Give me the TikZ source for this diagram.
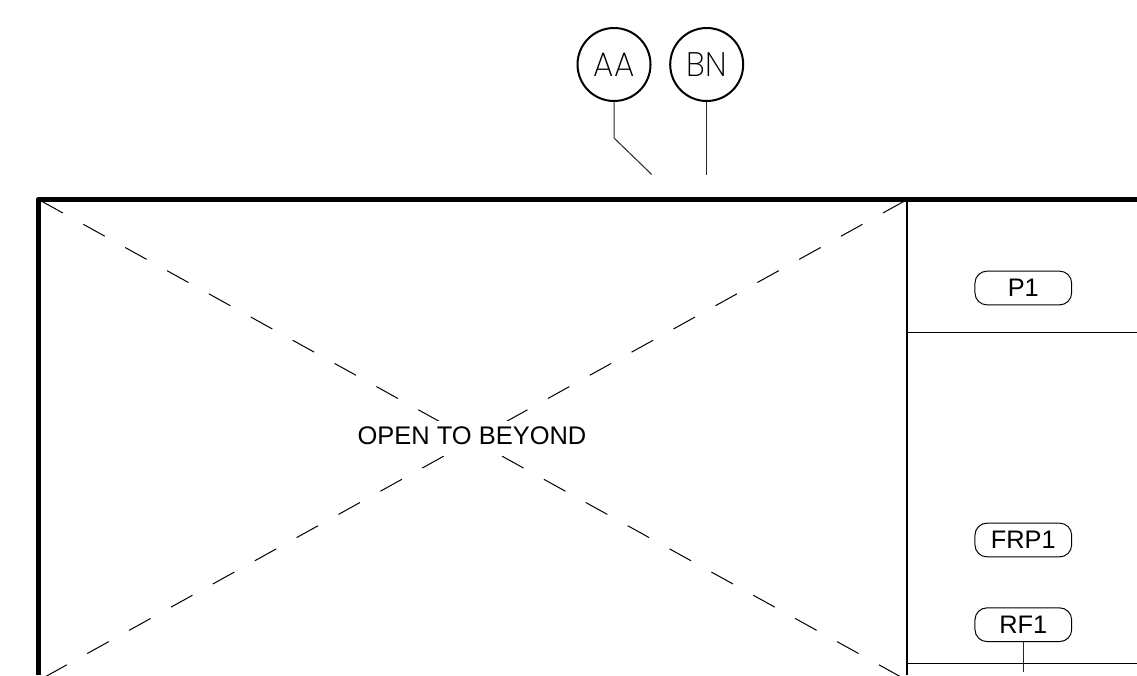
\documentclass[tikz,border=0pt]{standalone}
\usepackage{fontspec}
\setmainfont{Liberation Sans}
\newfontfamily\circfont[UprightFont={* ExtraLight},FakeStretch=0.95]{Poppins}
\begin{document}
\begin{tikzpicture}[x=0.75pt,y=-0.75pt,
  wallline/.style={line width=4.4pt,line join=round},
  partline/.style={line width=1.5pt},
  thinline/.style={line width=0.75pt},
  leader/.style={line width=0.75pt,draw=black!85},
  diagline/.style={line width=0.75pt,dash pattern=on 18.4pt off 17.5pt,dash phase=33.4pt},
  bubble/.style={circle,draw,line width=1.5pt,minimum size=54.75pt,inner sep=0pt,font=\circfont\fontsize{25.5pt}{25.5pt}\selectfont},
  tagpill/.style={rectangle,draw,line width=0.75pt,rounded corners=9pt,minimum width=72.5pt,minimum height=25.3pt,inner sep=0pt,font=\fontsize{19pt}{20pt}\selectfont},
  masklabel/.style={fill=white,anchor=base,inner xsep=0pt,inner ysep=0pt,text height=17.25pt,text depth=9pt,font=\fontsize{19.1pt}{20pt}\selectfont}]
\useasboundingbox (0,0) rectangle (1137,675);
\coordinate (tl) at (38.5,199.5);
\coordinate (tm) at (907.3,199.5);
\coordinate (tr) at (1137,199.5);
\coordinate (bl) at (38.5,680.5);
\coordinate (bm) at (907.3,680.5);
\coordinate (wallbl) at (38.5,675);
\coordinate (partb) at (907.3,675);
% dashed diagonals
\draw[diagline] (tl) -- (bm);
\draw[diagline] (tm) -- (bl);
% walls
\draw[partline] (tm) -- (partb);
\draw[thinline] (907.3,332) -- (1137,332);
\draw[thinline] (907.3,663) -- (1137,663);
\draw[wallline] (wallbl) -- (tl) -- (tr);
% label
\node[masklabel] (open) at (472,444) {OPEN TO BEYOND};
% tags
\node[tagpill] (p1) at (1023.3,288) {P1};
\node[tagpill] (frp1) at (1023.3,540) {FRP1};
\node[tagpill] (rf1) at (1023.3,624.7) {RF1};
\coordinate (rfend) at (1023.3,672);
\draw[leader] (rf1.south) -- (rfend);
% bubbles
\node[bubble] (aa) at (614,64.5) {AA};
\node[bubble] (bn) at (706.7,64.5) {BN};
\coordinate (aabend) at (614,138);
\coordinate (aaend) at (651.7,174.5);
\coordinate (bnend) at (706.7,174.5);
\draw[leader] (aa.south) -- (aabend) -- (aaend);
\draw[leader] (bn.south) -- (bnend);
\end{tikzpicture}
\end{document}
